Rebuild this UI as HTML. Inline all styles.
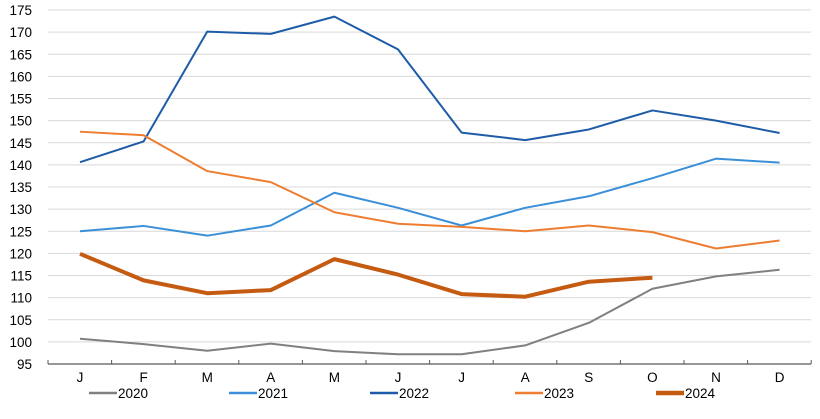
<!DOCTYPE html><html><head><meta charset="utf-8"><style>body{margin:0;background:#fff}svg{display:block;font-family:"Liberation Sans",sans-serif}</style></head><body>
<svg id="c" width="820" height="419" xmlns="http://www.w3.org/2000/svg"></svg>
<script>
const s=document.getElementById('c');let h='';
const Y=v=>364-(v-95)*4.425, X=i=>80+i*63.6;
for(let v=100;v<=175;v+=5){h+=`<line x1="48" x2="811" y1="${Y(v)}" y2="${Y(v)}" stroke="#d9d9d9" stroke-width="1"/>`;}
for(let v=95;v<=175;v+=5)h+=`<text x="32" y="${Y(v)+5}" font-size="13.5" text-anchor="end" fill="#000">${v}</text>`;
h+=`<line x1="48" x2="811" y1="364" y2="364" stroke="#595959" stroke-width="1.2"/>`;
for(let i=0;i<=12;i++)h+=`<line x1="${48+i*63.6}" x2="${48+i*63.6}" y1="360" y2="364" stroke="#595959"/>`;
'JFMAMJJASOND'.split('').forEach((m,i)=>h+=`<text x="${X(i)}" y="382" font-size="13.5" text-anchor="middle">${m}</text>`);
const S=[['2020','#808080',2,[100.7,99.5,98,99.6,97.9,97.2,97.2,99.2,104.3,112,114.8,116.3]],
['2021','#3a8fd8',2,[125,126.2,124,126.3,133.7,130.3,126.3,130.3,132.9,137,141.4,140.5]],
['2022','#1f5ca8',2,[140.6,145.3,170.1,169.6,173.5,166.1,147.3,145.6,148,152.3,150,147.2]],
['2023','#ed7d31',2,[147.5,146.7,138.6,136.1,129.3,126.7,126,125,126.3,124.8,121.1,122.9]],
['2024','#c55a11',4,[119.9,113.9,111,111.7,118.7,115.2,110.8,110.2,113.6,114.5]]];
const lx=[89,229,370,515,656];
S.forEach((a,k)=>{h+=`<polyline fill="none" stroke="${a[1]}" stroke-width="${a[2]}" stroke-linejoin="round" points="${a[3].map((v,i)=>X(i)+','+Y(v)).join(' ')}"/>`;
h+=`<line x1="${lx[k]}" x2="${lx[k]+28}" y1="393" y2="393" stroke="${a[1]}" stroke-width="${a[2]+0.5}"/><text x="${lx[k]+29}" y="398" font-size="13.5">${a[0]}</text>`;});
s.innerHTML=h;
</script></body></html>
